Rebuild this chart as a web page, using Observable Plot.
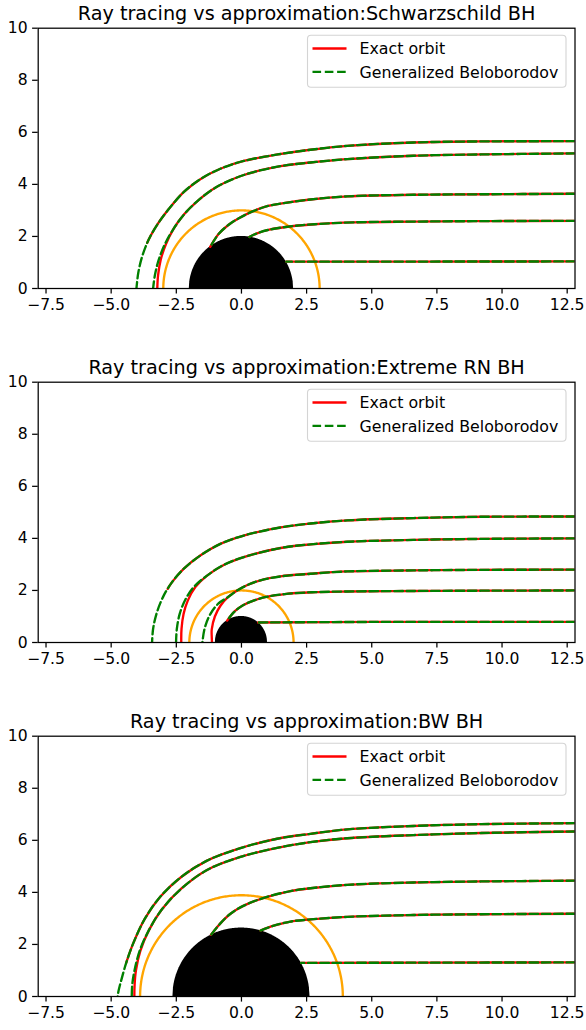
<!DOCTYPE html>
<html>
<head>
<meta charset="utf-8">
<script src="https://cdn.jsdelivr.net/npm/d3@7"></script>
<script src="https://cdn.jsdelivr.net/npm/@observablehq/plot@0.6"></script>
<style>
  html, body { margin: 0; padding: 0; background: #fff; overflow: hidden; }
  #charts svg { display: block; }
</style>
</head>
<body>
<div id="charts"></div>
<script>
// Panel titles, one per spacetime
const titles = [
  "Ray tracing vs approximation:Schwarzschild BH",
  "Ray tracing vs approximation:Extreme RN BH",
  "Ray tracing vs approximation:BW BH"
];

// Horizon (black disk) and photon-sphere (orange circle) radii per panel
const horizonRadius = [2, 1, 2.63];
const photonRadius = [3, 2, 3.89];

// Exact ray-traced orbits: per panel, per ray, [x, y] samples
const exactOrbits = [
  [
    [[12.8,5.66],[9.2,5.65],[6.6,5.61],[4.06,5.48],[2.65,5.33],[1.4,5.15],[0.09,4.9],[-0.81,4.6],[-1.58,4.2],[-2.22,3.7],[-2.79,3.05],[-3.2,2.5],[-3.5,2.0],[-3.62,1.75]],
    [[12.8,5.19],[9.2,5.15],[6.6,5.1],[4.06,4.97],[2.65,4.84],[1.5,4.7],[0.09,4.36],[-0.99,3.88],[-1.7,3.35],[-2.2,2.85],[-2.6,2.3],[-2.9,1.7],[-3.1,1.1],[-3.2,0.5],[-3.23,0]],
    [[12.8,3.64],[9.3,3.62],[6.6,3.6],[4.06,3.54],[2.65,3.42],[1.5,3.26],[1.02,3.17],[0.45,2.97],[-0.1,2.7],[-0.49,2.45],[-0.87,2.1],[-1.2,1.6]],
    [[12.8,2.6],[9.6,2.59],[6.6,2.57],[4.3,2.54],[2.8,2.47],[2.0,2.4],[1.07,2.26],[0.6,2.12],[0.3,1.98]],
    [[12.8,1.04],[7,1.035],[1.72,1.03]]
  ],
  [
    [[12.8,4.84],[9.2,4.83],[6.6,4.78],[4.06,4.69],[2.65,4.57],[1.5,4.42],[0.09,4.11],[-0.81,3.79],[-1.58,3.34],[-2.22,2.83],[-2.67,2.31],[-2.83,2.06]],
    [[12.8,4.0],[9.2,3.98],[6.6,3.94],[4.06,3.87],[2.65,3.77],[1.5,3.63],[0.09,3.28],[-0.68,2.98],[-1.32,2.57],[-1.77,2.13],[-2.06,1.61],[-2.22,1.1],[-2.3,0.52],[-2.31,0]],
    [[12.8,2.8],[9.2,2.79],[6.6,2.77],[4.06,2.73],[2.65,2.64],[1.5,2.54],[0.73,2.39],[0.23,2.21],[-0.18,1.99],[-0.52,1.74],[-0.8,1.42],[-1.02,1.0],[-1.14,0.5],[-1.14,0.22],[-1.13,0]],
    [[12.8,2.0],[9.2,1.99],[6.6,1.98],[4.06,1.96],[2.71,1.93],[1.66,1.86],[0.95,1.75],[0.44,1.6],[0.06,1.43],[-0.22,1.23],[-0.41,1.03],[-0.55,0.84]],
    [[12.8,0.795],[5,0.79],[0.64,0.77]]
  ],
  [
    [[12.8,6.66],[9.2,6.62],[6.6,6.55],[4.06,6.42],[2.65,6.25],[1.37,6.06],[-0.04,5.7],[-1.32,5.22],[-2.3,4.6],[-3.1,3.85],[-3.7,3.0],[-4.15,2.05],[-4.42,1.3]],
    [[12.8,6.34],[9.2,6.28],[6.6,6.2],[4.06,6.08],[2.65,5.93],[1.37,5.71],[-0.04,5.36],[-1.32,4.86],[-2.3,4.15],[-3.05,3.35],[-3.55,2.55],[-3.88,1.75],[-4.05,1.0],[-4.1,0.45],[-4.11,0]],
    [[12.8,4.45],[9.2,4.42],[6.6,4.38],[4.06,4.29],[2.65,4.16],[1.88,4.05],[0.86,3.79],[0.09,3.49],[-0.42,3.18],[-0.8,2.82],[-1.09,2.47],[-1.17,2.37]],
    [[12.8,3.18],[9.2,3.16],[6.6,3.13],[4.06,3.06],[2.65,2.96],[1.88,2.88],[1.24,2.72],[0.73,2.53]],
    [[12.8,1.31],[7,1.3],[2.29,1.29]]
  ]
];

// Generalized Beloborodov approximation for the same rays
const approxOrbits = [
  [
    [[12.8,5.66],[9.2,5.65],[6.6,5.61],[4.06,5.48],[2.65,5.33],[1.4,5.15],[0.09,4.9],[-0.81,4.6],[-1.58,4.2],[-2.22,3.7],[-2.79,3.05],[-3.2,2.5],[-3.5,2.0],[-3.62,1.75],[-3.82,1.2],[-3.96,0.6],[-4.03,0]],
    [[12.8,5.19],[9.2,5.15],[6.6,5.1],[4.06,4.97],[2.65,4.84],[1.5,4.7],[0.09,4.36],[-0.99,3.88],[-1.7,3.35],[-2.2,2.85],[-2.6,2.3],[-2.93,1.72],[-3.17,1.12],[-3.32,0.52],[-3.39,0]],
    [[12.8,3.64],[9.3,3.62],[6.6,3.6],[4.06,3.54],[2.65,3.42],[1.5,3.26],[1.02,3.17],[0.45,2.97],[-0.1,2.7],[-0.49,2.45],[-0.87,2.1],[-1.2,1.6]],
    [[12.8,2.6],[9.6,2.59],[6.6,2.57],[4.3,2.54],[2.8,2.47],[2.0,2.4],[1.07,2.26],[0.6,2.12],[0.3,1.98]],
    [[12.8,1.04],[7,1.035],[1.72,1.03]]
  ],
  [
    [[12.8,4.84],[9.2,4.83],[6.6,4.78],[4.06,4.69],[2.65,4.57],[1.5,4.42],[0.09,4.11],[-0.81,3.79],[-1.58,3.34],[-2.22,2.83],[-2.67,2.31],[-2.98,1.81],[-3.24,1.17],[-3.39,0.53],[-3.43,0]],
    [[12.8,4.0],[9.2,3.98],[6.6,3.94],[4.06,3.87],[2.65,3.77],[1.5,3.63],[0.09,3.28],[-0.68,2.98],[-1.32,2.57],[-1.83,2.13],[-2.15,1.65],[-2.37,1.1],[-2.48,0.52],[-2.51,0]],
    [[12.8,2.8],[9.2,2.79],[6.6,2.77],[4.06,2.73],[2.65,2.64],[1.5,2.54],[0.73,2.39],[0.23,2.21],[-0.18,1.99],[-0.52,1.74],[-0.88,1.5],[-1.2,1.08],[-1.41,0.55],[-1.5,0]],
    [[12.8,2.0],[9.2,1.99],[6.6,1.98],[4.06,1.96],[2.71,1.93],[1.66,1.86],[0.95,1.75],[0.44,1.6],[0.06,1.43],[-0.22,1.23],[-0.41,1.03],[-0.55,0.84]],
    [[12.8,0.795],[5,0.79],[0.64,0.77]]
  ],
  [
    [[12.8,6.66],[9.2,6.62],[6.6,6.55],[4.06,6.42],[2.65,6.25],[1.37,6.06],[-0.04,5.7],[-1.32,5.22],[-2.3,4.6],[-3.1,3.85],[-3.7,3.0],[-4.15,2.05],[-4.42,1.3],[-4.62,0.6],[-4.72,0.2],[-4.75,0]],
    [[12.8,6.34],[9.2,6.28],[6.6,6.2],[4.06,6.08],[2.65,5.93],[1.37,5.71],[-0.04,5.36],[-1.32,4.86],[-2.3,4.15],[-3.05,3.35],[-3.55,2.55],[-3.9,1.77],[-4.1,1.02],[-4.19,0.46],[-4.21,0]],
    [[12.8,4.45],[9.2,4.42],[6.6,4.38],[4.06,4.29],[2.65,4.16],[1.88,4.05],[0.86,3.79],[0.09,3.49],[-0.42,3.18],[-0.8,2.82],[-1.09,2.47],[-1.17,2.37]],
    [[12.8,3.18],[9.2,3.16],[6.6,3.13],[4.06,3.06],[2.65,2.96],[1.88,2.88],[1.24,2.72],[0.73,2.53]],
    [[12.8,1.31],[7,1.3],[2.29,1.29]]
  ]
];

// Axis ticks and their labels
const xTicks = [-7.5, -5, -2.5, 0, 2.5, 5, 7.5, 10, 12.5];
const xTickLabels = ["\u22127.5", "\u22125.0", "\u22122.5", "0.0", "2.5", "5.0", "7.5", "10.0", "12.5"];
const yTicks = [0, 2, 4, 6, 8, 10];
const yTickLabels = ["0", "2", "4", "6", "8", "10"];

// Legend entries
const legendLabels = ["Exact orbit", "Generalized Beloborodov"];

const FONT = "DejaVu Sans, sans-serif";
const TICK_FS = 15.6;
const W = 586;
const M = { left: 37.7, right: 11.5, top: 27.7 };
const DASH = "8.6,3.7";
const LW = 2.35;

function rowsOf(orbits) {
  return orbits.flatMap((pts, k) => pts.map(([x, y]) => ({ ray: k, x, y })));
}

function panel(i, height, marginBottom) {
  const R = horizonRadius[i];
  const P = photonRadius[i];
  const n = 240;
  // half disk of the horizon and half circle of the photon sphere
  const disk = d3.range(n + 1).map(j => {
    const x = -R + (2 * R * j) / n;
    return { x, y: Math.sqrt(Math.max(0, R * R - x * x)) };
  });
  const ring = d3.range(n + 1).map(j => {
    const t = (Math.PI * j) / n;
    return { x: P * Math.cos(t), y: P * Math.sin(t) };
  });

  const svg = Plot.plot({
    width: W,
    height,
    marginLeft: M.left,
    marginRight: M.right,
    marginTop: M.top,
    marginBottom,
    x: { domain: [-7.8, 12.8] },
    y: { domain: [0, 10] },
    style: { fontFamily: FONT, fontSize: TICK_FS + "px", color: "black", background: "white", overflow: "visible" },
    marks: [
      Plot.line(ring, { x: "x", y: "y", stroke: "orange", strokeWidth: LW, clip: true }),
      Plot.areaY(disk, { x: "x", y: "y", fill: "black", clip: true }),
      Plot.line(rowsOf(exactOrbits[i]), { x: "x", y: "y", z: "ray", stroke: "red", strokeWidth: LW, curve: "catmull-rom", clip: true }),
      Plot.line(rowsOf(approxOrbits[i]), { x: "x", y: "y", z: "ray", stroke: "green", strokeWidth: LW, strokeDasharray: DASH, curve: "catmull-rom", clip: true }),
      Plot.frame({ stroke: "black", strokeWidth: 1.25 }),
      Plot.axisX({
        ticks: xTicks,
        tickFormat: d => xTickLabels[xTicks.indexOf(d)],
        tickSize: 5.6, tickPadding: 4.5, strokeWidth: 1.25,
        fontSize: TICK_FS, label: null
      }),
      Plot.axisY({
        ticks: yTicks,
        tickFormat: d => yTickLabels[yTicks.indexOf(d)],
        tickSize: 5.6, tickPadding: 5, strokeWidth: 1.25,
        fontSize: TICK_FS, label: null
      }),
      Plot.text([titles[i]], {
        text: d => d, frameAnchor: "top", dy: -8.5, lineAnchor: "bottom", fontSize: 19.2, fill: "black"
      })
    ]
  });

  // legend box in the upper right of the frame
  const right = W - M.right;
  const bw = 258.5, bh = 52;
  const bx = right - 8.5 - bw, by = M.top + 7.5;
  const g = d3.select(svg).append("g")
    .attr("font-family", FONT).attr("font-size", 15.8).attr("text-anchor", "start");
  g.append("rect")
    .attr("x", bx).attr("y", by).attr("width", bw).attr("height", bh)
    .attr("rx", 3.5).attr("fill", "white").attr("fill-opacity", 0.8)
    .attr("stroke", "#d4d4d4").attr("stroke-width", 1.1);
  const rowsY = [by + 13.3, by + 36.7];
  const styles = [{ stroke: "red", dash: null }, { stroke: "green", dash: DASH }];
  legendLabels.forEach((label, k) => {
    const line = g.append("line")
      .attr("x1", bx + 5).attr("x2", bx + 39)
      .attr("y1", rowsY[k]).attr("y2", rowsY[k])
      .attr("stroke", styles[k].stroke).attr("stroke-width", LW);
    if (styles[k].dash) line.attr("stroke-dasharray", styles[k].dash);
    g.append("text")
      .attr("x", bx + 52).attr("y", rowsY[k]).attr("dy", "0.36em")
      .attr("fill", "black").attr("text-anchor", "start").text(label);
  });
  return svg;
}

const root = document.getElementById("charts");
root.appendChild(panel(0, 354, 66));
root.appendChild(panel(1, 354, 66));
root.appendChild(panel(2, 322, 34));
</script>
</body>
</html>
